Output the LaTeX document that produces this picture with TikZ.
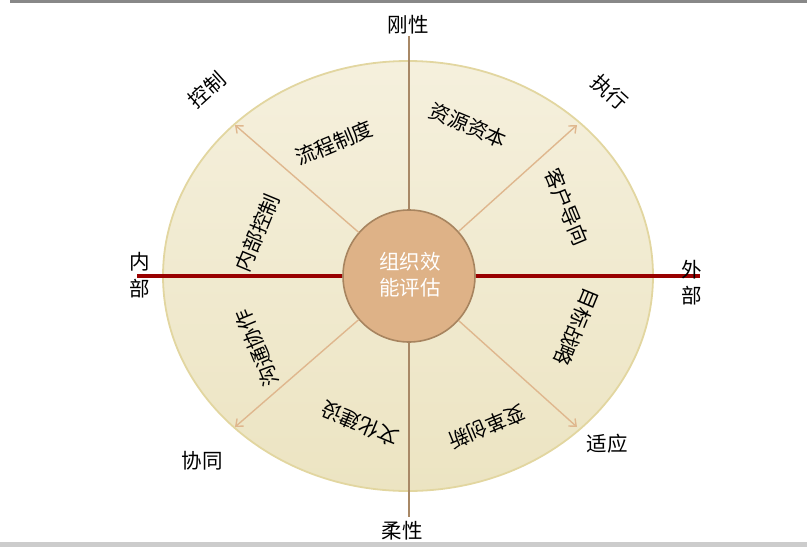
\documentclass[tikz,border=0pt]{standalone}
\usepackage{fontspec}
\newfontfamily\cjk{Noto Sans CJK SC}
\usetikzlibrary{arrows.meta}
\definecolor{elltop}{HTML}{F5F0DD}
\definecolor{ellbot}{HTML}{ECE4C2}
\definecolor{elldraw}{HTML}{E2D6A0}
\definecolor{hubfill}{HTML}{DEB287}
\definecolor{hubdraw}{HTML}{A7845F}
\definecolor{axisbrown}{HTML}{A88866}
\definecolor{axisred}{HTML}{990000}
\definecolor{arrowtan}{HTML}{DFB78E}
\definecolor{topbar}{HTML}{888888}
\definecolor{botbar}{HTML}{CCCCCC}
\begin{document}
\begin{tikzpicture}[x=1pt,y=-1pt,
  lbl/.style={font=\cjk\fontsize{20.5}{20.5}\selectfont, inner sep=0pt, text=black},
  hubtxt/.style={font=\cjk\fontsize{20.5}{20.5}\selectfont, inner sep=0pt, text=white},
  spoke/.style={draw=arrowtan, line width=1.4pt, -{Straight Barb[length=6pt,width=10pt]}},
  vaxis/.style={draw=axisbrown, line width=2.4pt},
  haxis/.style={draw=axisred, line width=3.2pt}]
\useasboundingbox (0,0) rectangle (807,547);
\fill[topbar] (10,0) rectangle (807,2.5);
\fill[botbar] (0,542) rectangle (807,547);
% outer ellipse
\shade[top color=elltop, bottom color=ellbot, draw=elldraw, line width=1.8pt]
  (408,276) ellipse [x radius=245, y radius=215];
% hub
\node[circle, minimum size=132pt, inner sep=0pt, fill=hubfill, draw=hubdraw, line width=1.6pt] (c) at (409,276) {};
\node[hubtxt] (h1) at (410,262) {组织效};
\node[hubtxt] (h2) at (410,288) {能评估};
% axis ends
\coordinate (top) at (409,36);
\coordinate (bot) at (409,517);
\coordinate (inL) at (137,276);
\coordinate (outR) at (700,276);
\draw[vaxis] (c) -- (top);
\draw[vaxis] (c) -- (bot);
\draw[haxis] (c) -- (inL);
\draw[haxis] (c) -- (outR);
% spokes
\coordinate (ul) at (235,125);
\coordinate (ur) at (577,125);
\coordinate (ll) at (235,427);
\coordinate (lr) at (577,427);
\draw[spoke] (c) -- (ul);
\draw[spoke] (c) -- (ur);
\draw[spoke] (c) -- (ll);
\draw[spoke] (c) -- (lr);
% outer labels
\node[lbl] (gang) at (408,25) {刚性};
\node[lbl] (rou) at (402,531) {柔性};
\node[lbl, rotate=42] (kong) at (207,90) {控制};
\node[lbl, rotate=-42] (zhi) at (610,92) {执行};
\node[lbl] (nei1) at (140,262) {内};
\node[lbl] (nei2) at (140,289) {部};
\node[lbl] (wai1) at (692,270) {外};
\node[lbl] (wai2) at (692,296) {部};
\node[lbl] (xie) at (202,461) {协同};
\node[lbl] (shi) at (607,444) {适应};
% inner ring labels
\node[lbl, rotate=22.5] (s1) at (334,143) {流程制度};
\node[lbl, rotate=-22.5] (s2) at (468,125) {资源资本};
\node[lbl, rotate=-67.5] (s3) at (567,207) {客户导向};
\node[lbl, rotate=-112.5] (s4) at (577,327) {目标战略};
\node[lbl, rotate=-157.5] (s5) at (487,427) {变革创新};
\node[lbl, rotate=157.5] (s6) at (360,424) {文化建设};
\node[lbl, rotate=112.5] (s7) at (257,348) {沟通协作};
\node[lbl, rotate=67.5] (s8) at (257,233) {内部控制};
\end{tikzpicture}
\end{document}
